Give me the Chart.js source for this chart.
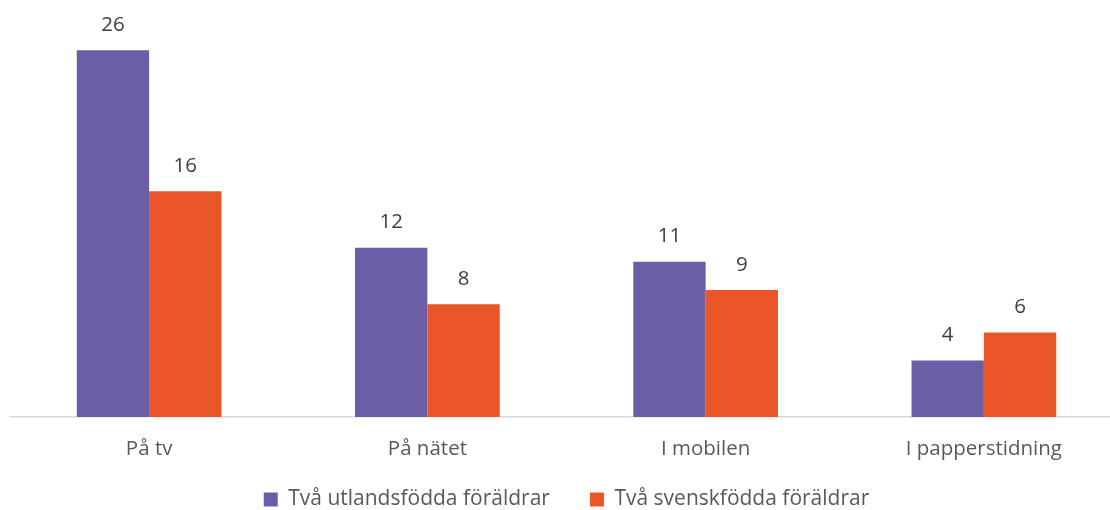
<!DOCTYPE html>
<html>
<head>
<meta charset="utf-8">
<script src="https://cdn.jsdelivr.net/npm/chart.js@4.4.0/dist/chart.umd.min.js"></script>
<style>
html,body{margin:0;padding:0;background:#fff;overflow:hidden;}
#wrap{width:1110px;height:510px;position:relative;overflow:hidden;}
canvas{display:block;}
</style>
</head>
<body>
<div id="wrap"><canvas id="c" width="1133" height="510"></canvas></div>
<script>
const categories = ["På tv", "På nätet", "I mobilen", "I papperstidning"];
const seriesNames = ["Två utlandsfödda föräldrar", "Två svenskfödda föräldrar"];
const utlandsfodda = [26, 12, 11, 4];
const svenskfodda = [16, 8, 9, 6];
const colors = ["#6B5EA6", "#EB5628"];

const FONT = "'Open Sans', 'Liberation Sans', sans-serif";

const valueLabels = {
  id: 'valueLabels',
  afterLayout(chart) {
    if (chart.legend) { chart.legend.top += 10; chart.legend.bottom += 10; }
  },
  afterDatasetsDraw(chart) {
    const ctx = chart.ctx;
    ctx.save();
    ctx.font = "20.5px " + FONT;
    ctx.fillStyle = "#404040";
    ctx.textAlign = "center";
    ctx.textBaseline = "bottom";
    chart.data.datasets.forEach((ds, i) => {
      const meta = chart.getDatasetMeta(i);
      meta.data.forEach((bar, j) => {
        ctx.fillText(String(ds.data[j]), bar.x, bar.y - 15);
      });
    });
    ctx.restore();
  }
};

Chart.defaults.font.family = FONT;
new Chart(document.getElementById('c'), {
  type: 'bar',
  data: {
    labels: categories,
    datasets: [
      { label: seriesNames[0], data: utlandsfodda, backgroundColor: colors[0] },
      { label: seriesNames[1], data: svenskfodda, backgroundColor: colors[1] }
    ]
  },
  options: {
    responsive: false,
    animation: false,
    devicePixelRatio: 1,
    layout: { padding: { left: 10, right: 10, top: 8, bottom: 0 } },
    datasets: { bar: { categoryPercentage: 0.52, barPercentage: 1.0 } },
    scales: {
      x: {
        grid: { display: false },
        border: { color: '#D9D9D9', width: 1.5 },
        ticks: { color: '#595959', font: { size: 20.5 }, padding: 12 },
        afterFit: (s) => { s.height = 22; s._computeLabelArea = function () { return undefined; }; }
      },
      y: {
        display: false,
        min: 0,
        max: 29
      }
    },
    plugins: {
      legend: {
        position: 'bottom',
        labels: { color: '#595959', font: { size: 21 }, boxWidth: 14, boxHeight: 14, padding: 40 }
      },
      tooltip: { enabled: false }
    }
  },
  plugins: [valueLabels]
});
</script>
</body>
</html>
